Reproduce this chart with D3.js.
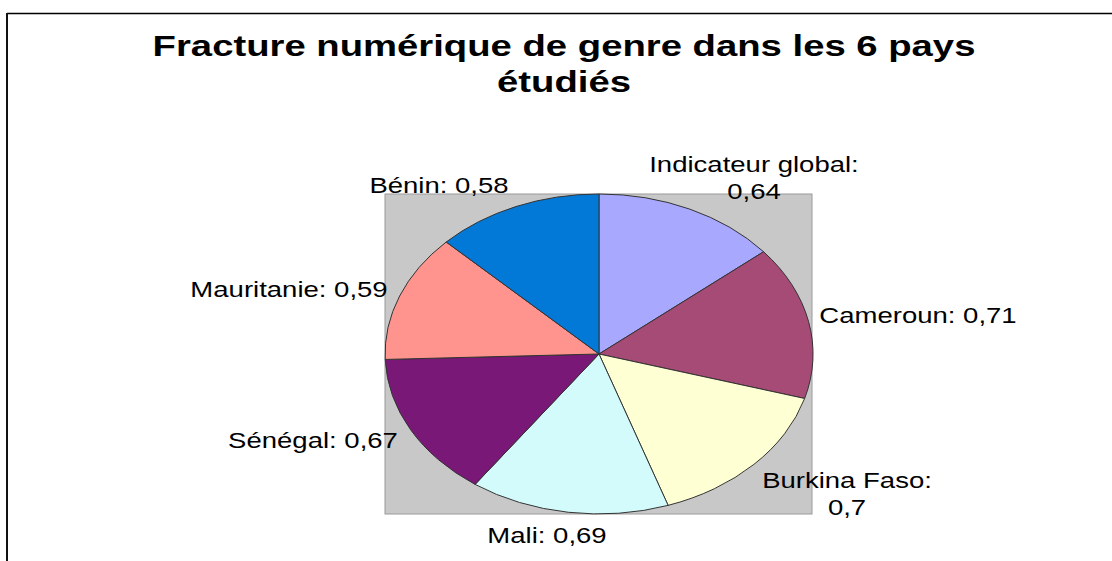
<!DOCTYPE html>
<html>
<head>
<meta charset="utf-8">
<script src="https://cdn.jsdelivr.net/npm/d3@7"></script>
<style>
  body { margin: 0; background: #fff; }
  text { font-family: "Liberation Sans", Arial, sans-serif; fill: #000; }
</style>
</head>
<body>
<script>
// data
const countries = ['Indicateur global', 'Cameroun', 'Burkina Faso', 'Mali', 'Sénégal', 'Mauritanie', 'Bénin'];
const values = [0.64, 0.71, 0.7, 0.69, 0.67, 0.59, 0.58];
const colors = ['#a8a8ff', '#a64a76', '#ffffd4', '#d3fbfc', '#7a1877', '#ff948f', '#0279d6'];
const titleLines = ['Fracture numérique de genre dans les 6 pays', 'étudiés'];

// where Excel put each label (centre x, first baseline y), and how it wrapped
const labelPos = [[754, 172], [918, 323], [847, 488], [547, 543], [313, 448], [289, 297], [439, 193]];
const labelWrap = [true, false, true, false, false, false, false];

const fmt = v => String(v).replace('.', ',');

const W = 1112, H = 561;
const cx = 599, cy = 354, rx = 214, ry = 160;

const svg = d3.select('body')
              .append('svg')
              .attr('width', W)
              .attr('height', H);

// chart frame (only top and left edges are visible)
svg.append('line')
  .attr('x1', 7).attr('y1', 13.5).attr('x2', W).attr('y2', 13.5)
  .attr('stroke', '#000').attr('stroke-width', 1.5);
svg.append('line')
  .attr('x1', 7).attr('y1', 13).attr('x2', 7).attr('y2', H)
  .attr('stroke', '#111').attr('stroke-width', 2);

// stretched text helper: the original is squashed wider than tall
function stretchedText(x, y, str, size, sx, bold) {
  svg.append('text')
    .attr('transform', `translate(${x},${y}) scale(${sx},1)`)
    .attr('text-anchor', 'middle')
    .style('font-size', size + 'px')
    .style('font-weight', bold ? 'bold' : 'normal')
    .text(str);
}

stretchedText(564, 56, titleLines[0], 29, 1.32, true);
stretchedText(564, 92, titleLines[1], 29, 1.32, true);

// grey plot area
svg.append('rect')
  .attr('x', cx - rx).attr('y', cy - ry)
  .attr('width', rx * 2 - 1).attr('height', ry * 2)
  .attr('fill', '#c8c8c8')
  .attr('stroke', '#9a9a9a')
  .attr('stroke-width', 1);

const pie = d3.pie().sort(null).value(d => d)(values);
const arc = d3.arc().innerRadius(0).outerRadius(1);

svg.append('g')
  .attr('transform', `translate(${cx},${cy}) scale(${rx},${ry})`)
  .selectAll('path')
  .data(pie)
  .enter().append('path')
  .attr('d', arc)
  .attr('fill', (d, i) => colors[i])
  .attr('stroke', '#333')
  .attr('stroke-width', 1)
  .attr('vector-effect', 'non-scaling-stroke');

// data labels
countries.forEach((name, i) => {
  const [lx, ly] = labelPos[i];
  if (labelWrap[i]) {
    stretchedText(lx, ly, name + ':', 21.5, 1.28, false);
    stretchedText(lx, ly + 26.5, fmt(values[i]), 21.5, 1.28, false);
  } else {
    stretchedText(lx, ly, name + ': ' + fmt(values[i]), 21.5, 1.28, false);
  }
});
</script>
</body>
</html>
